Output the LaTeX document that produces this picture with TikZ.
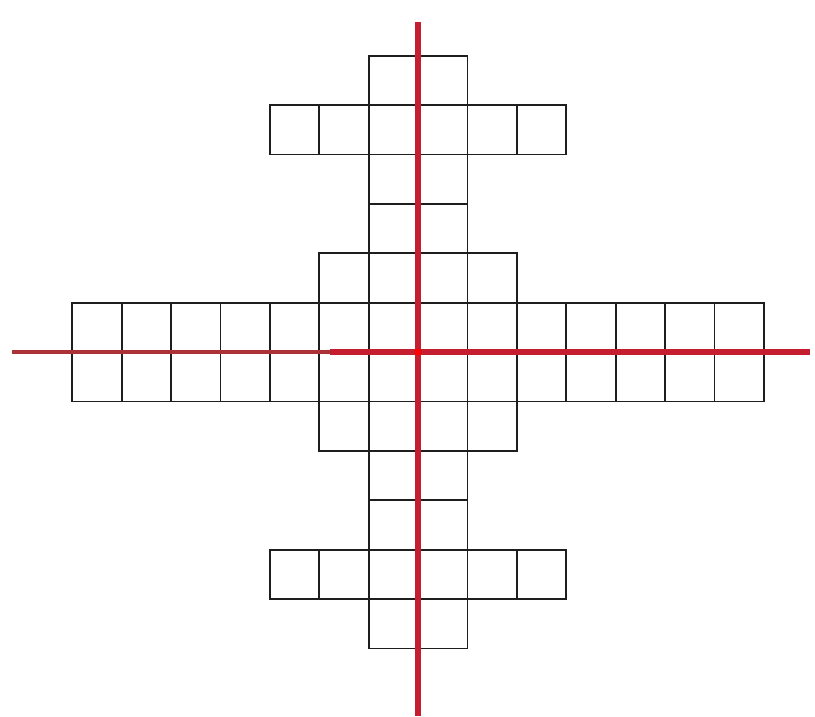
\documentclass[tikz,border=0pt]{standalone}
\usetikzlibrary{calc}
\definecolor{gridblack}{RGB}{30,30,30}
\definecolor{axisred}{RGB}{196,30,48}
\definecolor{axisdark}{RGB}{170,50,55}
\begin{document}
\begin{tikzpicture}[x=1pt,y=-1pt,
  cellline/.style={draw=gridblack,line width=1.8pt},
  axisline/.style={draw=axisred,line width=5.5pt},
  axisthin/.style={draw=axisdark,line width=4pt}]
\useasboundingbox[fill=white] (0,0) rectangle (815,716);
\def\s{49.4}
\coordinate (O) at (418,352);
% horizontal band
\foreach \i in {-7,...,6} \foreach \j in {-1,0}
  \draw[cellline] ($(O)+(\i*\s,\j*\s)$) rectangle ++(\s,\s);
% central block
\foreach \i in {-2,...,1} \foreach \j in {-2,...,1}
  \draw[cellline] ($(O)+(\i*\s,\j*\s)$) rectangle ++(\s,\s);
% vertical strip
\foreach \i in {-1,0} \foreach \j in {-6,...,5}
  \draw[cellline] ($(O)+(\i*\s,\j*\s)$) rectangle ++(\s,\s);
% top and bottom arms
\foreach \i in {-3,...,2} \foreach \j in {-5,4}
  \draw[cellline] ($(O)+(\i*\s,\j*\s)$) rectangle ++(\s,\s);
% axes
\coordinate (vt) at (418,22);
\coordinate (vb) at (418,716);
\coordinate (hl) at (12,352);
\coordinate (hm) at (330,352);
\coordinate (hr) at (810,352);
\draw[axisthin] (hl) -- (hm);
\draw[axisline] (hm) -- (hr);
\draw[axisline] (vt) -- (vb);
\fill[red] (O) circle (3.5pt);
\end{tikzpicture}
\end{document}
